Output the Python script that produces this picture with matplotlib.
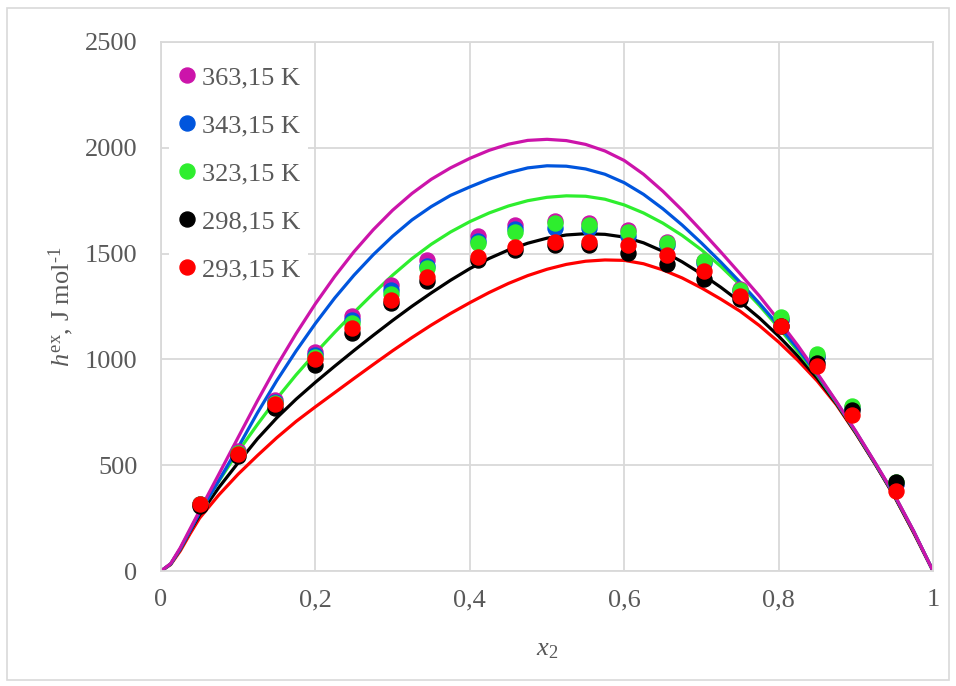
import matplotlib.pyplot as plt
from matplotlib.patches import Rectangle

plt.rcParams['font.family'] = ['Liberation Serif', 'DejaVu Serif']
plt.rcParams['mathtext.fontset'] = 'custom'
plt.rcParams['mathtext.rm'] = 'Liberation Serif'
plt.rcParams['mathtext.it'] = 'Liberation Serif:italic'

# experimental points (same compositions for every temperature)
x_exp = [0.05, 0.1, 0.148, 0.2, 0.248, 0.298, 0.345, 0.41, 0.458, 0.51,
         0.555, 0.605, 0.655, 0.703, 0.75, 0.803, 0.85, 0.895, 0.952]
h_363 = [315, 565, 810, 1035, 1205, 1350, 1470, 1583, 1635, 1654,
         1645, 1610, 1555, 1465, 1335, 1190, 1015, 775, 410]
h_343 = [315, 560, 800, 1020, 1185, 1330, 1440, 1560, 1615, 1621,
         1621, 1585, 1540, 1455, 1325, 1185, 1010, 770, 410]
h_323 = [315, 560, 795, 1010, 1170, 1310, 1430, 1550, 1602, 1644,
         1636, 1600, 1550, 1465, 1330, 1200, 1025, 780, 420]
h_298 = [305, 545, 770, 975, 1125, 1265, 1370, 1470, 1517, 1541,
         1541, 1505, 1450, 1380, 1285, 1160, 985, 760, 420]
h_293 = [315, 555, 790, 1000, 1150, 1280, 1390, 1484, 1531, 1555,
         1555, 1540, 1495, 1420, 1300, 1160, 970, 735, 380]

# model curves
x_fit = [0, 0.0125, 0.025, 0.0375, 0.05, 0.075, 0.1, 0.125, 0.15, 0.175,
         0.2, 0.225, 0.25, 0.275, 0.3, 0.325, 0.35, 0.375, 0.4, 0.425,
         0.45, 0.475, 0.5, 0.525, 0.55, 0.575, 0.6, 0.625, 0.65, 0.675,
         0.7, 0.725, 0.75, 0.775, 0.8, 0.825, 0.85, 0.875, 0.9, 0.925,
         0.95, 0.975, 1]
fit_363 = [0, 35, 110, 198, 285, 458, 632, 805, 970, 1122,
           1263, 1392, 1509, 1613, 1705, 1784, 1851, 1905, 1950, 1988,
           2017, 2035, 2040, 2034, 2016, 1985, 1940, 1875, 1795, 1705,
           1608, 1508, 1405, 1300, 1185, 1065, 935, 800, 660, 512,
           360, 188, 0]
fit_343 = [0, 33, 105, 190, 275, 428, 585, 748, 900, 1040,
           1170, 1290, 1398, 1495, 1582, 1659, 1722, 1775, 1815, 1852,
           1882, 1905, 1915, 1913, 1900, 1875, 1835, 1780, 1712, 1635,
           1550, 1460, 1365, 1265, 1160, 1050, 930, 798, 658, 510,
           358, 187, 0]
fit_323 = [0, 33, 105, 192, 280, 425, 565, 693, 815, 927,
           1030, 1128, 1222, 1312, 1398, 1476, 1544, 1602, 1651, 1692,
           1725, 1750, 1766, 1773, 1771, 1757, 1730, 1692, 1644, 1586,
           1518, 1440, 1352, 1255, 1150, 1038, 925, 795, 656, 509,
           357, 186, 0]
fit_298 = [0, 33, 103, 188, 265, 395, 512, 625, 724, 812,
           892, 968, 1042, 1114, 1184, 1251, 1314, 1374, 1429, 1477,
           1517, 1549, 1573, 1588, 1594, 1591, 1578, 1551, 1511, 1461,
           1404, 1341, 1272, 1196, 1110, 1015, 911, 790, 652, 506,
           353, 182, 0]
fit_293 = [0, 30, 95, 175, 250, 360, 458, 546, 630, 707,
           776, 843, 910, 976, 1041, 1103, 1162, 1217, 1268, 1316,
           1359, 1396, 1426, 1449, 1464, 1470, 1468, 1452, 1423, 1385,
           1338, 1285, 1228, 1160, 1082, 995, 898, 785, 650, 505,
           352, 180, 0]

labels = ['363,15 K', '343,15 K', '323,15 K', '298,15 K', '293,15 K']
colors = ['#cc14aa', '#0055dd', '#2eee2e', '#000000', '#ff0000']
x_ticks = [0, 0.2, 0.4, 0.6, 0.8, 1]
x_tick_labels = ['0', '0,2', '0,4', '0,6', '0,8', '1']
y_ticks = [0, 500, 1000, 1500, 2000, 2500]

exp_data = [h_363, h_343, h_323, h_298, h_293]
fit_data = [fit_363, fit_343, fit_323, fit_298, fit_293]

fig = plt.figure(figsize=(9.56, 6.86), dpi=100)
ax = fig.add_axes([0.1684, 0.1676, 0.8076, 0.7712])

# lines: magenta drawn last so it sits on top
for fit, c in reversed(list(zip(fit_data, colors))):
    ax.plot(x_fit, fit, color=c, lw=2.3, zorder=2, solid_joinstyle='round')

handles = []
for h, c, lab in zip(exp_data, colors, labels):
    p, = ax.plot(x_exp, h, 'o', color=c, ms=10.8, mec=c, label=lab, zorder=3)
    handles.append(p)

ax.set_xlim(0, 1)
ax.set_ylim(0, 2500)
ax.set_xticks(x_ticks)
ax.set_xticklabels(x_tick_labels)
ax.set_yticks(y_ticks)
ax.grid(True, color='#d9d9d9', lw=1.3, zorder=0)
ax.set_axisbelow(True)
for s in ax.spines.values():
    s.set_color('#d9d9d9')
    s.set_linewidth(1.3)
ax.tick_params(length=0, labelsize=19, labelcolor='#595959')
ax.tick_params(axis='x', pad=13)
ax.tick_params(axis='y', pad=17)

ax.set_xlabel(r'$\mathit{x}_{2}$', fontsize=19, color='#595959', labelpad=20)
ax.set_ylabel(r'$\mathit{h}^{\mathrm{ex}}$, J mol$^{\text{-1}}$', fontsize=19,
              color='#595959', labelpad=6)

leg = ax.legend(handles=handles, loc='upper left', bbox_to_anchor=(0.0, 0.985),
                fontsize=19, frameon=True, facecolor='white', edgecolor='none',
                framealpha=1, handlelength=0.8, handletextpad=0.15,
                labelspacing=0.93, borderpad=0.3, borderaxespad=0.3,
                labelcolor='#595959', fancybox=False)

fig.patches.append(Rectangle((0.007, 0.009), 0.986, 0.979, transform=fig.transFigure,
                             fill=False, edgecolor='#d9d9d9', lw=1.2))

fig.savefig('out.png', dpi=100)
